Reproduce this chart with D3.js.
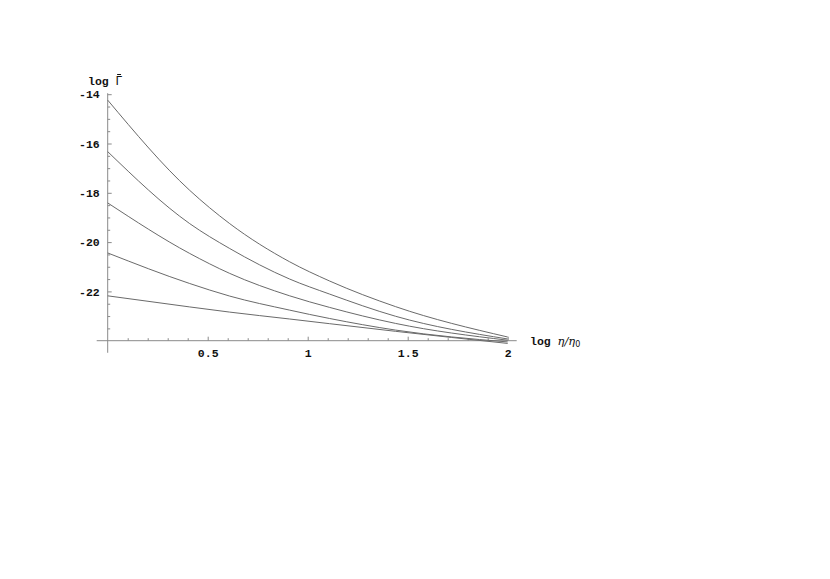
<!DOCTYPE html>
<html>
<head>
<meta charset="utf-8">
<script src="https://cdn.jsdelivr.net/npm/d3@7"></script>
<style>
  html, body { margin: 0; padding: 0; background: #fff; }
  svg { display: block; }
  text { font-family: "Liberation Mono", "DejaVu Sans Mono", monospace; font-weight: bold; fill: #111; }
</style>
</head>
<body>
<svg id="chart" width="830" height="579"></svg>
<script>
// ---- data ----
const xValues = [0, 0.41, 0.61, 0.91, 1.11, 1.44, 2];
const series1 = [-14.24, -17.90, -19.25, -20.80, -21.58, -22.62, -23.85];
const series2 = [-16.33, -19.25, -20.26, -21.50, -22.11, -23.01, -23.93];
const series3 = [-18.41, -20.46, -21.27, -22.18, -22.65, -23.30, -23.98];
const series4 = [-20.44, -21.68, -22.19, -22.76, -23.10, -23.57, -24.05];
const series5 = [-22.18, -22.63, -22.84, -23.12, -23.31, -23.62, -24.11];
const allSeries = [series1, series2, series3, series4, series5];

const xMajorTicks = [0.5, 1, 1.5, 2];
const xMinorTicks = [0.1,0.2,0.3,0.4,0.6,0.7,0.8,0.9,1.1,1.2,1.3,1.4,1.6,1.7,1.8,1.9];
const yMajorTicks = [-22, -20, -18, -16, -14];
const yMinorTicks = [-23.5,-23,-22.5,-21.5,-21,-20.5,-19.5,-19,-18.5,-17.5,-17,-16.5,-15.5,-15,-14.5];
const xAxisExtent = [-0.055, 2.045];
const yAxisExtent = [-24.49, -13.96];

// ---- scales ----
const x = d3.scaleLinear().domain([0, 2]).range([107.7, 507.7]);
const y = d3.scaleLinear().domain([-24, -14]).range([340.7, 94.2]);

const svg = d3.select("#chart");
svg.append("rect").attr("width", 830).attr("height", 579).attr("fill", "#fff");

const axisColor = "#8a8a8a";
const fontSize = "11.5px";

// axis lines
svg.append("line")
  .attr("x1", x(xAxisExtent[0])).attr("x2", x(xAxisExtent[1]))
  .attr("y1", y(-24)).attr("y2", y(-24))
  .attr("stroke", axisColor).attr("stroke-width", 1);
svg.append("line")
  .attr("x1", x(0)).attr("x2", x(0))
  .attr("y1", y(yAxisExtent[0])).attr("y2", y(yAxisExtent[1]))
  .attr("stroke", axisColor).attr("stroke-width", 1);

function styleAxis(g) {
  g.select(".domain").remove();
  g.selectAll(".tick line").attr("stroke", axisColor);
  g.selectAll(".tick text")
    .attr("fill", "#111")
    .style("font-family", "'Liberation Mono', monospace")
    .style("font-weight", "bold")
    .style("font-size", fontSize);
}

// x axis: major and minor ticks pointing inward
svg.append("g")
  .attr("transform", `translate(0,${y(-24)})`)
  .call(d3.axisBottom(x).tickValues(xMajorTicks).tickSize(-4).tickPadding(8)
        .tickFormat(d3.format("~g")))
  .call(styleAxis);
svg.append("g")
  .attr("transform", `translate(0,${y(-24)})`)
  .call(d3.axisBottom(x).tickValues(xMinorTicks).tickSize(-2.5).tickFormat(""))
  .call(styleAxis);

// y axis
svg.append("g")
  .attr("transform", `translate(${x(0)},0)`)
  .call(d3.axisLeft(y).tickValues(yMajorTicks).tickSize(-4).tickPadding(8)
        .tickFormat(d => d3.format("d")(d).replace("−", "-")))
  .call(styleAxis);
svg.append("g")
  .attr("transform", `translate(${x(0)},0)`)
  .call(d3.axisLeft(y).tickValues(yMinorTicks).tickSize(-2.5).tickFormat(""))
  .call(styleAxis);

// curves
const line = d3.line()
  .x((d, i) => x(xValues[i]))
  .y(d => y(d))
  .curve(d3.curveMonotoneX);

svg.append("g").selectAll("path")
  .data(allSeries)
  .join("path")
  .attr("d", line)
  .attr("fill", "none")
  .attr("stroke", "#6a6a6a")
  .attr("stroke-width", 1);

// y axis label: log Γ with a bar over Γ
const yl = svg.append("text")
  .attr("x", 88).attr("y", 85)
  .style("font-size", fontSize);
yl.append("tspan").text("log ");
yl.append("tspan").style("font-weight", "normal").style("font-family", "'DejaVu Sans', sans-serif").text("Γ");
const ext = yl.node().getExtentOfChar(4);
svg.append("line")
  .attr("x1", ext.x + 1.5).attr("x2", ext.x + ext.width - 1)
  .attr("y1", 74.5).attr("y2", 74.5)
  .attr("stroke", "#111").attr("stroke-width", 1);

// x axis label
const xl = svg.append("text")
  .attr("x", 530).attr("y", 345)
  .style("font-size", fontSize);
xl.append("tspan").text("log ");
xl.append("tspan").style("font-family", "'DejaVu Serif', serif").style("font-style", "italic").style("font-weight", "normal").text("η/η");
xl.append("tspan").attr("dy", 2).style("font-size", "8px").style("font-weight", "normal").style("font-family", "'DejaVu Sans', sans-serif").text("0");
</script>
</body>
</html>
